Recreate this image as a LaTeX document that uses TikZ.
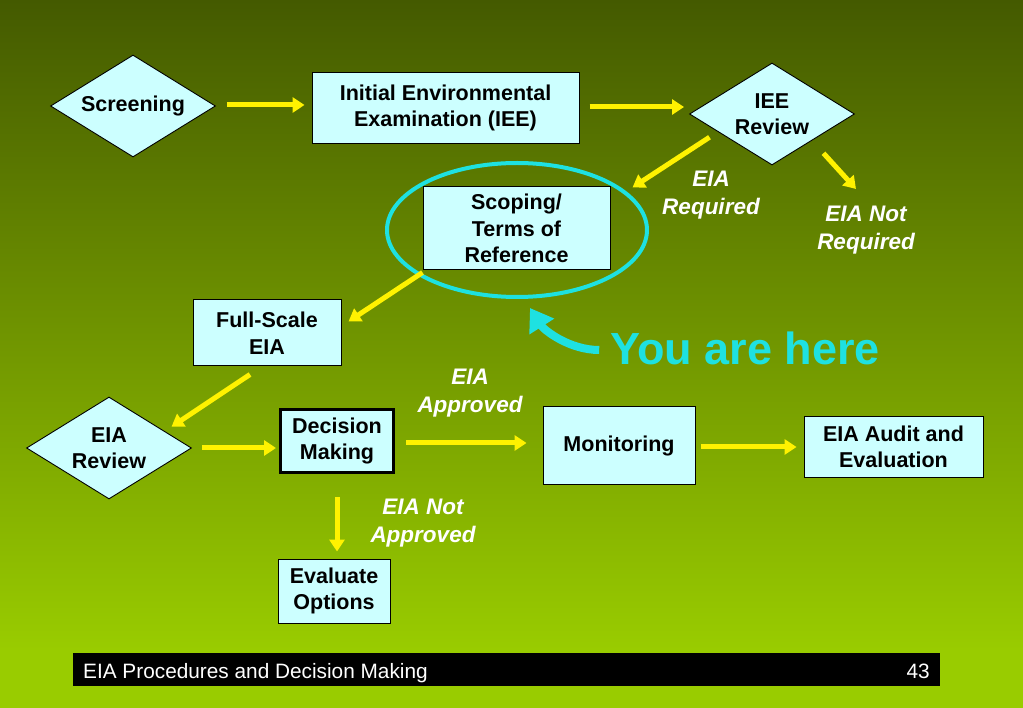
\documentclass[tikz,border=0pt]{standalone}
\usepackage{fontspec}
\setmainfont{Liberation Sans}
\usetikzlibrary{arrows.meta}
\usetikzlibrary{shapes.geometric}
\usetikzlibrary{calc}
\definecolor{lblue}{RGB}{204,255,255}
\definecolor{mcyan}{RGB}{30,225,225}
\definecolor{bgtop}{RGB}{68,90,0}
\definecolor{bgbot}{RGB}{153,204,0}
\tikzset{box/.style = {draw, fill=lblue, line width=1pt, inner sep=0, align=center,
                       font=\bfseries\fontsize{21.5}{26.5}\selectfont}}
\tikzset{dia/.style = {diamond, draw, fill=lblue, line width=0.9pt, inner sep=0, aspect=1.6,
                       minimum width=165pt, minimum height=102pt, align=center,
                       font=\bfseries\fontsize{21.5}{26.5}\selectfont}}
\tikzset{lbl/.style = {text=white, align=center, inner sep=0,
                       font=\bfseries\itshape\fontsize{22.5}{27.5}\selectfont}}
\tikzset{foot/.style = {text=white, inner sep=0, font=\fontsize{20.8}{25}\selectfont}}
\tikzset{yarr/.style = {draw=yellow, line width=5pt, -{Triangle[length=12pt, width=15pt]}}}
\tikzset{harr/.style = {draw=mcyan, line width=8pt, -{Triangle[length=22pt, width=28pt]}}}

\begin{document}
\begin{tikzpicture}[x=1pt, y=-1pt]
      \useasboundingbox (0, 0) rectangle (1023, 708);
      \shade [top color=bgtop, bottom color=bgbot] (0, 0) rectangle (1023, 650);
      \fill [bgbot] (0, 650) rectangle (1023, 708);

      \node [dia] (scr) at (133, 106) {Screening};
      \node [box, minimum width=267pt, minimum height=71pt] (iee) at (445.5, 108) {Initial Environmental\\Examination (IEE)};
      \node [dia] (irev) at (772, 114) {IEE\\Review};
      \node [box, minimum width=187pt, minimum height=83pt] (scope) at (516.5, 228.5) {Scoping/\\Terms of\\Reference};
      \node [box, minimum width=148pt, minimum height=66pt] (full) at (267, 333) {Full-Scale\\EIA};
      \node [dia] (erev) at (109, 448) {EIA\\Review};
      \node [box, line width=3pt, minimum width=113pt, minimum height=63pt] (dec) at (337, 441) {Decision\\Making};
      \node [box, minimum width=152pt, minimum height=77pt] (mon) at (619, 445.5) {Monitoring};
      \node [box, minimum width=179pt, minimum height=60pt] (aud) at (893.5, 447) {EIA Audit and\\Evaluation};
      \node [box, minimum width=112pt, minimum height=64pt] (evo) at (334, 591) {Evaluate\\Options};

      \node [lbl] (lreq) at (711, 195) {EIA\\Required};
      \node [lbl] (lnreq) at (866, 230) {EIA Not\\Required};
      \node [lbl] (lapp) at (470, 393) {EIA\\Approved};
      \node [lbl] (lnapp) at (423, 523) {EIA Not\\Approved};

      \draw [mcyan, line width=4pt] ($(scope.center)+(0.5, 1.5)$) ellipse [x radius=130pt, y radius=67pt];
      \node [text=mcyan, inner sep=0, font=\bfseries\fontsize{45}{54}\selectfont] (here) at (745, 348) {You are here};
      \coordinate (tip) at (530, 308);
      \draw [harr] ($(here.west)+(-11, 2)$) .. controls +(-30, 0) and +(14, 22) .. (tip);

      \draw [yarr] ($(scr.east)+(11, -1)$) -- ($(scr.east -| iee.west)+(-7, -1)$);
      \draw [yarr] ($(iee.east)+(10, -1)$) -- ($(iee.east -| irev.west)+(-5, -1)$);
      \draw [yarr] ($(irev.south west)+(-21, -2.5)$) -- ($(scope.north east)+(22, 1)$);
      \draw [yarr] ($(irev.south east)+(10, 13.5)$) -- ($(lnreq.center)+(-10, -41)$);
      \draw [yarr] ($(scope.south west)+(0, 2)$) -- ($(full.north east)+(7, 22)$);
      \draw [yarr] ($(full.south)+(-17, 8)$) -- ($(erev.north east)+(21, 4.5)$);
      \draw [yarr] ($(erev.east)+(10, 0)$) -- ($(erev.east -| dec.west)+(-3, 0)$);
      \draw [yarr] ($(dec.east)+(11, 2)$) -- ($(dec.east -| mon.west)+(-16, 2)$);
      \draw [yarr] ($(mon.east)+(5, 1.5)$) -- ($(mon.east -| aud.west)+(-7, 1.5)$);
      \draw [yarr] ($(dec.south)+(0, 23)$) -- ($(dec.south |- evo.north)+(0, -7)$);

      \fill [black] (73, 653) rectangle (940, 686);
      \node [foot, anchor=base west] (ftxt) at (83, 678) {EIA Procedures and Decision Making};
      \node [foot, anchor=base east] (fnum) at (930, 678) {43};
    \end{tikzpicture}
\end{document}
